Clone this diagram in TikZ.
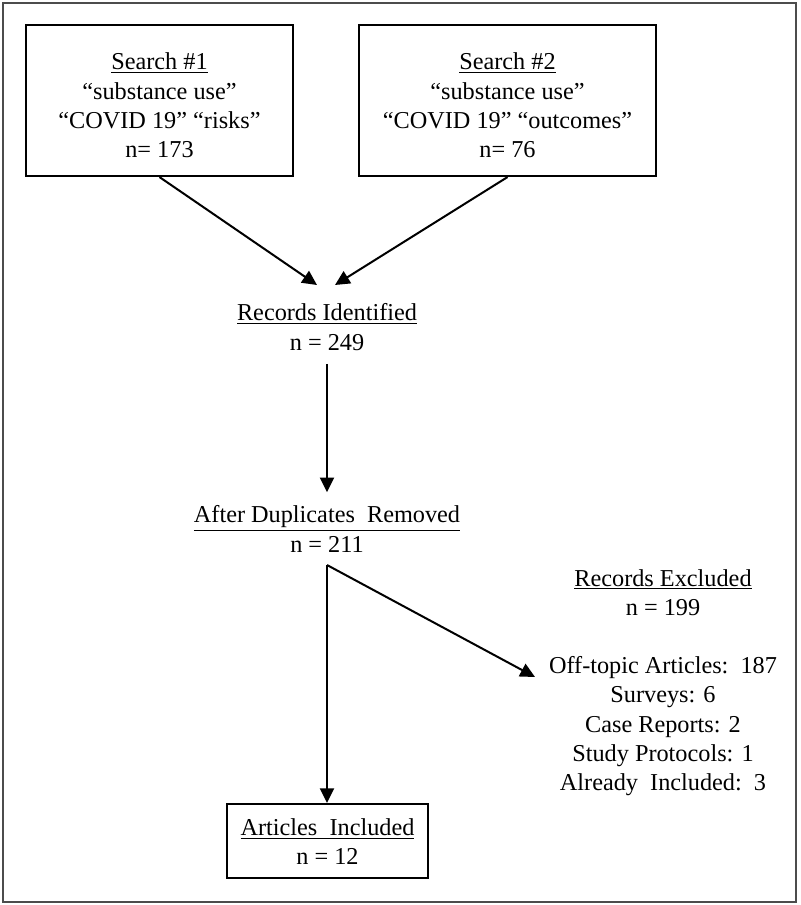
\documentclass[tikz,border=0pt]{standalone}
\usepackage{fontspec}
\setmainfont{Liberation Serif}
\usetikzlibrary{arrows.meta,calc}
\begin{document}
\begin{tikzpicture}[x=0.75pt,y=-0.75pt,
  every node/.style={font=\fontsize{18.2}{21.9}\selectfont, align=center, inner sep=0pt},
  box/.style={draw, line width=1.6pt},
  conn/.style={line width=1.5pt, -{Triangle[length=11pt,width=10.5pt]}},
  plainline/.style={line width=1.5pt}]
\useasboundingbox (0,0) rectangle (800,905);
\draw[draw=black!70, line width=1.2pt] (3,3) rectangle (796,902);

\node[box, minimum width=200.25pt, minimum height=113.25pt] (s1) at (159.5,100.5)
  {\rule{0pt}{20pt}\underline{Search \#1}\\“substance use”\\“COVID 19”\ “risks”\\n= 173};
\node[box, minimum width=222.75pt, minimum height=113.25pt] (s2) at (507.5,100.5)
  {\rule{0pt}{20pt}\underline{Search \#2}\\“substance use”\\“COVID 19”\ “outcomes”\\n= 76};

\node (rid) at (327,327) {\underline{Records Identified}\\n = 249};
\coordinate (t1) at (317,285);
\coordinate (t2) at (335,285);
\draw[conn] (s1.south) -- (t1);
\draw[conn] (s2.south) -- (t2);

\node (adr) at (327,529) {\underline{After Duplicates\ \ Removed}\\n = 211};
\draw[conn, shorten <=10pt, shorten >=10pt] (rid.south) -- (adr.north);

\coordinate (br) at (327,565);
\node[box, minimum width=150.75pt, minimum height=55.5pt] (ai) at (327.5,841)
  {\rule{0pt}{14pt}\underline{Articles\ \ Included}\\n = 12};
\node (rex) at (663,682.5) {\underline{Records Excluded}\\n = 199\\[21.9pt]Off-topic Articles:\ \ 187\\Surveys: 6\\Case Reports: 2\\Study Protocols: 1\\Already\ \ Included:\ \ 3};
\coordinate (t3) at (535,677);
\draw[conn] (br) -- (br |- ai.north);
\draw[conn] (br) -- (t3);
\end{tikzpicture}
\end{document}
